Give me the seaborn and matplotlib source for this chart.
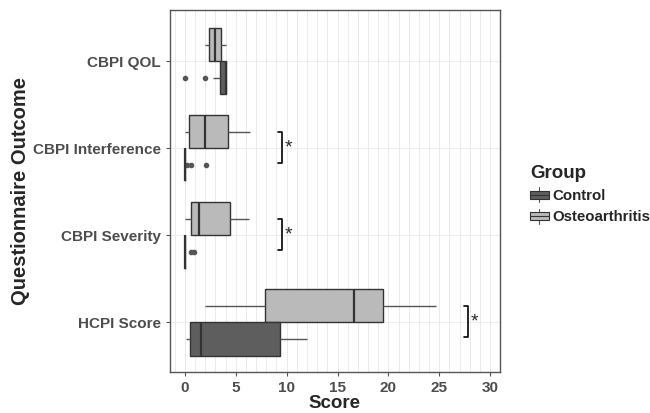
"""
Boxplots of questionnaire scores by group (Control vs Osteoarthritis).
"""

import seaborn as sns
import matplotlib.pyplot as plt
import pandas as pd
from matplotlib.patches import Patch, Rectangle
from matplotlib.lines import Line2D
from matplotlib.legend_handler import HandlerBase
from matplotlib.ticker import MultipleLocator

outcomes = ["CBPI QOL", "CBPI Interference", "CBPI Severity", "HCPI Score"]

# raw scores (whisker ends, quartiles, median, outliers)
control_scores = {
    "CBPI QOL": [0, 2.0, 2.8, 3.4, 3.6, 3.8, 4.0, 4.0, 4.0, 4.0, 4.0, 4.0, 4.0],
    "CBPI Interference": [0, 0, 0, 0, 0, 0, 0, 0, 0, 0, 0.25, 0.6, 2.1],
    "CBPI Severity": [0, 0, 0, 0, 0, 0, 0, 0, 0, 0, 0.6, 0.85],
    "HCPI Score": [0.1, 0.5, 1.6, 9.3, 12.0],
}
oa_scores = {
    "CBPI QOL": [2.0, 2.4, 3.0, 3.5, 4.0],
    "CBPI Interference": [0.0, 0.4, 2.0, 4.2, 6.4],
    "CBPI Severity": [0.0, 0.6, 1.4, 4.4, 6.3],
    "HCPI Score": [2.0, 7.9, 16.6, 19.5, 24.7],
}

# significance brackets: (outcome, x position)
sig_outcomes = ["CBPI Interference", "CBPI Severity", "HCPI Score"]
sig_x = [9.5, 9.5, 27.8]

colors = {"Control": "#5E5E5E", "Osteoarthritis": "#BABABA"}


class BoxKeyHandler(HandlerBase):
    """Legend key drawn like a little boxplot glyph."""

    def create_artists(self, legend, orig_handle, xdescent, ydescent,
                       width, height, fontsize, trans):
        cx = -xdescent + width / 2
        by = -ydescent + height * 0.15
        bh = height * 0.7
        box = Rectangle((-xdescent, by), width, bh,
                        facecolor=orig_handle.get_facecolor(),
                        edgecolor="#333333", lw=0.8, transform=trans)
        med = Line2D([-xdescent, -xdescent + width], [by + bh / 2] * 2,
                     color="#333333", lw=0.8, transform=trans)
        w_lo = Line2D([cx, cx], [-ydescent - height * 0.1, by],
                      color="#555555", lw=0.8, transform=trans)
        w_hi = Line2D([cx, cx], [by + bh, -ydescent + height * 1.1],
                      color="#555555", lw=0.8, transform=trans)
        return [w_lo, w_hi, box, med]


rows = []
for group, scores in [("Control", control_scores), ("Osteoarthritis", oa_scores)]:
    for outcome in outcomes:
        for v in scores[outcome]:
            rows.append({"Outcome": outcome, "Group": group, "Score": v})
df = pd.DataFrame(rows)

sns.set_style("white")
plt.rcParams["font.family"] = ["Liberation Sans", "DejaVu Sans"]

fig = plt.figure(figsize=(6.5, 4.13), dpi=100)
ax = fig.add_axes([0.2615, 0.099, 0.5077, 0.877])

sns.boxplot(data=df, x="Score", y="Outcome", hue="Group", order=outcomes,
            hue_order=["Osteoarthritis", "Control"], palette=colors,
            orient="h", width=0.76, gap=0, linecolor="#333333", linewidth=1,
            fliersize=3, showcaps=False, legend=False, ax=ax,
            flierprops=dict(marker="o", markerfacecolor="#555555",
                            markeredgecolor="#555555"),
            whiskerprops=dict(color="#555555"),
            medianprops=dict(color="#333333", linewidth=1.6))

# significance brackets
for outcome, x in zip(sig_outcomes, sig_x):
    i = outcomes.index(outcome)
    y0, y1 = i - 0.19, i + 0.17
    ax.plot([x - 0.35, x, x, x - 0.35], [y0, y0, y1, y1], color="black", lw=1.2)
    ax.text(x + 0.3, i - 0.01, "*", fontsize=14, ha="left", va="center")

ax.set_xlim(-1.47, 30.97)
ax.set_ylim(3.57, -0.59)
ax.set_xticks([0, 5, 10, 15, 20, 25, 30])
ax.xaxis.set_minor_locator(MultipleLocator(1))
ax.grid(True, which="both", axis="x", color="#E6E6E6", linewidth=0.6)
ax.grid(True, which="major", axis="y", color="#EBEBEB", linewidth=0.6)
ax.set_axisbelow(True)
for s in ax.spines.values():
    s.set_color("#555555")
    s.set_linewidth(1)

ax.tick_params(axis="both", which="major", length=3, color="#555555",
               labelcolor="#4D4D4D", labelsize=11, bottom=True, left=True)
ax.tick_params(axis="x", which="minor", length=0)
for lab in ax.get_xticklabels() + ax.get_yticklabels():
    lab.set_fontweight("bold")

ax.set_xlabel("Score", fontsize=13.5, fontweight="bold", labelpad=0)
ax.set_ylabel("Questionnaire Outcome", fontsize=14.5, fontweight="bold",
              labelpad=2)

handles = [Patch(facecolor=colors[g], edgecolor="#333333", label=g)
           for g in ["Control", "Osteoarthritis"]]
leg = ax.legend(handles=handles, title="Group", loc="center left",
                bbox_to_anchor=(1.05, 0.49), frameon=False,
                prop={"weight": "bold", "size": 10.8},
                title_fontproperties={"weight": "bold", "size": 13.5},
                handler_map={Patch: BoxKeyHandler()},
                handlelength=1.25, handleheight=0.9, handletextpad=0.25,
                labelspacing=0.45)
leg._legend_box.align = "left"

plt.savefig("out.png", dpi=100)
